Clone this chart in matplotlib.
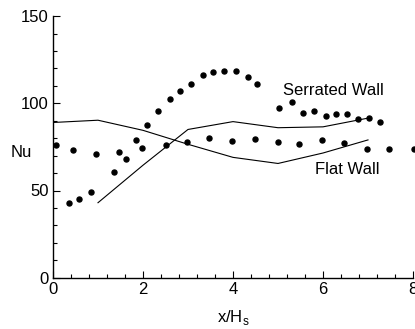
import matplotlib
matplotlib.use("Agg")
import matplotlib.pyplot as plt
from matplotlib.ticker import MultipleLocator

plt.rcParams['font.family'] = ['Liberation Sans', 'DejaVu Sans']

# Serrated wall measurements (upper arc of dots)
serr_x = [0.36, 0.58, 0.84, 1.36, 1.62, 1.85, 2.09, 2.33, 2.59, 2.83, 3.06, 3.33,
          3.56, 3.80, 4.06, 4.33, 4.54, 5.03, 5.30, 5.56, 5.80, 6.06, 6.28, 6.53,
          6.78, 7.02, 7.26]
serr_nu = [43.0, 45.0, 49.0, 60.4, 67.9, 79.0, 87.4, 95.8, 102.3, 107.1, 111.3, 116.0,
           117.8, 118.3, 118.3, 115.1, 111.2, 97.5, 100.9, 94.6, 95.6, 92.7, 93.9, 94.0,
           91.2, 91.7, 89.3]

# Flat wall measurements (lower row of dots)
flat_x = [0.06, 0.44, 0.96, 1.47, 1.97, 2.51, 2.97, 3.47, 3.98, 4.49, 5.00, 5.47,
          5.98, 6.47, 6.97, 7.47, 8.03]
flat_nu = [76.3, 73.2, 70.9, 72.2, 74.2, 76.1, 77.8, 80.1, 78.6, 79.4, 78.0, 76.8,
           78.8, 77.4, 74.0, 74.0, 74.0]

# Curve starting high at x=0 (dips then rises)
lineA_x = [0, 1, 2, 3, 4, 5, 6, 7]
lineA_nu = [89.0, 90.3, 84.5, 76.5, 69.0, 65.5, 71.5, 79.0]

# Curve starting low at x=1 (rises)
lineB_x = [1, 2, 3, 4, 5, 6, 7]
lineB_nu = [43.0, 64.5, 85.0, 89.5, 86.0, 86.5, 91.5]

fig = plt.figure(figsize=(4.15, 3.29), dpi=100)
ax = fig.add_axes([53/415, 51.3/329, 360/415, 261.6/329])

ax.plot(lineA_x, lineA_nu, color='black', lw=0.8)
ax.plot(lineB_x, lineB_nu, color='black', lw=0.8)
ax.plot(serr_x, serr_nu, 'o', color='black', ms=3.6, clip_on=False)
ax.plot(flat_x, flat_nu, 'o', color='black', ms=3.6, clip_on=False)

ax.set_xlim(0, 8)
ax.set_ylim(0, 150)
ax.spines['top'].set_visible(False)
ax.spines['right'].set_visible(False)
for s in ('left', 'bottom'):
    ax.spines[s].set_linewidth(1.0)

ax.xaxis.set_major_locator(MultipleLocator(2))
ax.xaxis.set_minor_locator(MultipleLocator(0.4))
ax.yaxis.set_major_locator(MultipleLocator(50))
ax.yaxis.set_minor_locator(MultipleLocator(10))
ax.tick_params(which='both', direction='in', labelsize=12, width=0.8)
ax.tick_params(which='major', length=5, pad=3)
ax.tick_params(which='minor', length=3)

ax.set_xlabel('x/H$_\\mathregular{s}$', fontsize=12, labelpad=8)
ax.text(-0.7, 72, 'Nu', fontsize=12, ha='center', va='center')

ax.text(6.22, 107.6, 'Serrated Wall', fontsize=12, ha='center', va='center')
ax.text(6.53, 62.3, 'Flat Wall', fontsize=12, ha='center', va='center')

fig.savefig('out.png', dpi=100)
